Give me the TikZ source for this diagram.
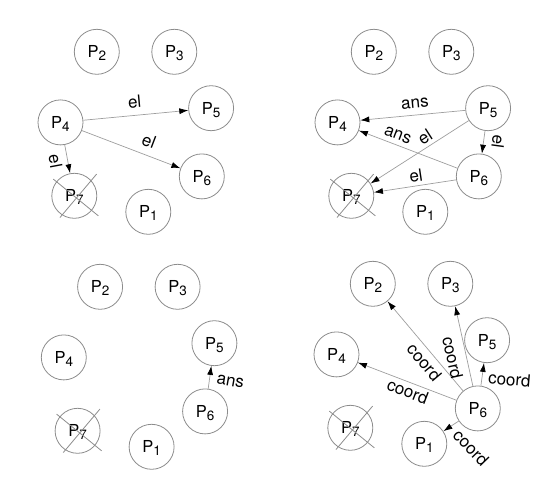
\documentclass[tikz,border=0pt]{standalone}
\usepackage{fontspec}
\setmainfont{TeX Gyre Heros}
\usetikzlibrary{arrows.meta}

% process name with lowered index
\newcommand{\pname}[1]{P\raisebox{-2.8pt}{\fontsize{13.5}{15}\selectfont #1}}

% the seven processes of one snapshot; P7 has crashed
\newcommand{\placeprocs}[1]{%
  \node[proc] (#1-1) at (148.3,211.8) {\pname{1}};
  \node[proc] (#1-2) at (96.8,51.8)   {\pname{2}};
  \node[proc] (#1-3) at (174.3,51.8)  {\pname{3}};
  \node[proc] (#1-4) at (60.5,122.4)  {\pname{4}};
  \node[proc] (#1-5) at (211.1,108.2) {\pname{5}};
  \node[proc] (#1-6) at (201.8,176.4) {\pname{6}};
  \node[proc] (#1-7) at (74.3,195.8)  {\pname{7}};
  \draw[cross] (#1-7.center) ++(-21,-16.7) -- ++(45,36.7);
  \draw[cross] (#1-7.center) ++(-14.3,21.7) -- ++(36.6,-43.4);
}

\begin{document}
\begin{tikzpicture}[x=1pt, y=-1pt,
  proc/.style={circle, draw=black!45, line width=0.8pt, minimum size=45pt,
    inner sep=0pt, font=\fontsize{16.5}{18}\selectfont, text depth=0pt},
  cross/.style={draw=black!45, line width=0.8pt},
  msg/.style={draw=black!38, line width=0.7pt,
    -{Latex[length=9pt, width=6pt, color=black]}},
  lab/.style={font=\fontsize{17}{19}\selectfont, inner sep=1pt}]

\useasboundingbox (0,0) rectangle (559,479);

% election started by P4
\begin{scope}
  \placeprocs{a}
  \draw[msg] (a-4) -- node[lab, sloped, above=5.5pt, pos=0.5] (a-l45) {el} (a-5);
  \draw[msg] (a-4) -- node[lab, sloped, above=6.5pt, pos=0.63] (a-l46) {el} (a-6);
  \draw[msg] (a-4) -- node[lab, sloped, below=4.5pt, pos=0.5] (a-l47) {el} (a-7);
\end{scope}

% answers and forwarded elections
\begin{scope}[shift={(277,0)}]
  \placeprocs{b}
  \draw[msg] (b-5) -- node[lab, sloped, above=5pt, pos=0.47] (b-l54) {ans} (b-4);
  \draw[msg] (b-6) -- node[lab, sloped, above=3.5pt, pos=0.64] (b-l64) {ans} (b-4);
  \draw[msg] (b-5) -- node[lab, sloped, above=2.5pt, pos=0.39] (b-l57) {el} (b-7);
  \draw[msg] (b-6) -- node[lab, sloped, above=2.5pt, pos=0.47] (b-l67) {el} (b-7);
  \draw[msg] (b-5) -- node[lab, sloped, allow upside down, above=7pt, pos=0.39] (b-l56) {el} (b-6);
\end{scope}

% P6 answers P5
\begin{scope}[shift={(3.3,235)}]
  \placeprocs{c}
  \draw[msg] (c-6) -- (c-5);
  \node[lab, rotate=-10] (c-l65) at (227,146.7) {ans};
\end{scope}

% P6 announces itself as coordinator
\begin{scope}[shift={(276,232)}]
  \placeprocs{d}
  \draw[msg] (d-6) -- node[lab, sloped, below=3.5pt, pos=0.4] (d-l62) {coord} (d-2);
  \draw[msg] (d-6) -- node[lab, sloped, below=6pt, pos=0.39] (d-l63) {coord} (d-3);
  \draw[msg] (d-6) -- node[lab, sloped, below=1.5pt, pos=0.46] (d-l64) {coord} (d-4);
  \draw[msg] (d-6) -- (d-5);
  \draw[msg] (d-6) -- (d-1);
  \node[lab, rotate=-5] (d-l65) at (233.5,147.3) {coord};
  \node[lab, rotate=-46] (d-l61) at (195,215.5) {coord};
\end{scope}
\end{tikzpicture}
\end{document}
